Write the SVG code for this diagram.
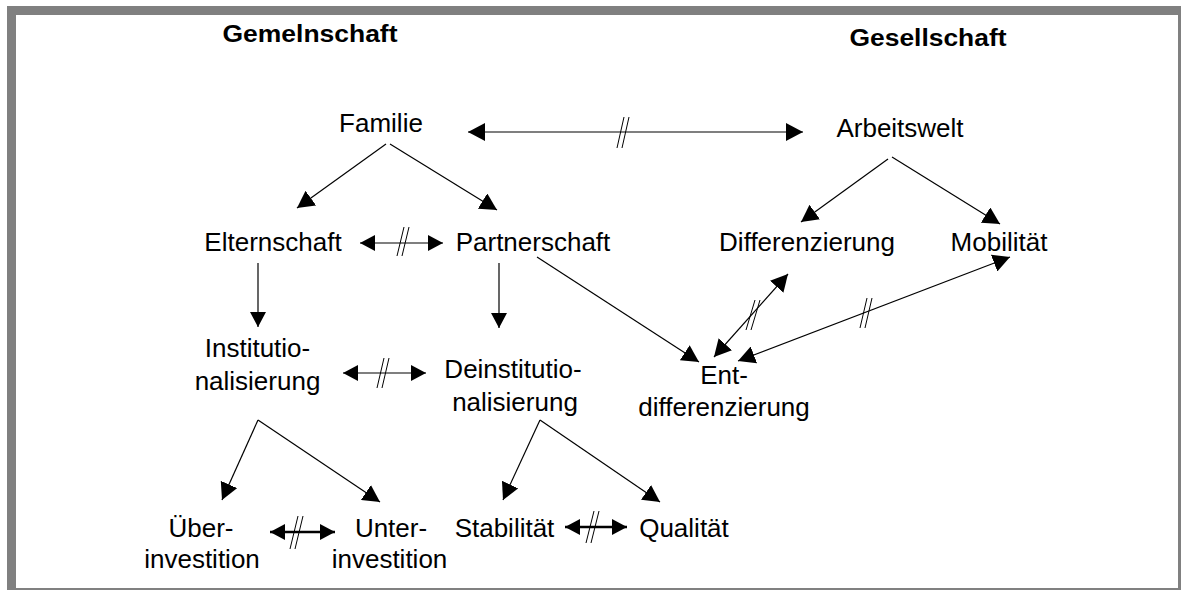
<svg xmlns="http://www.w3.org/2000/svg" width="1181" height="590" viewBox="0 0 1181 590">
<style>
text{font-family:"Liberation Sans",Arial,sans-serif;font-size:26px;fill:#000;text-anchor:middle}
.h{font-weight:bold;font-size:23.5px}
.c{stroke:#000;stroke-width:1.2;fill:none}
.t{stroke:#000;stroke-width:2.5;fill:none}
.s{stroke:#000;stroke-width:1;fill:none}
</style>
<defs>
<marker id="a" markerUnits="userSpaceOnUse" markerWidth="17" markerHeight="18" refX="17" refY="9" orient="auto-start-reverse"><path d="M0,0 L17,9 L0,18 z" fill="#000"/></marker>
<marker id="m" markerUnits="userSpaceOnUse" markerWidth="15" markerHeight="16" refX="15" refY="8" orient="auto-start-reverse"><path d="M0,0 L15,8 L0,16 z" fill="#000"/></marker>
</defs>
<rect x="7" y="6" width="1174" height="584" fill="#808080"/>
<rect x="16" y="15" width="1162" height="573" fill="#fff"/>

<g id="gemeinschaft"><text class="h" x="310" y="41.5" textLength="175" lengthAdjust="spacingAndGlyphs">Gemelnschaft</text></g>
<g id="gesellschaft"><text class="h" x="928" y="45.5" textLength="157" lengthAdjust="spacingAndGlyphs">Gesellschaft</text></g>
<g id="familie"><text x="381" y="132">Familie</text></g>
<g id="arbeitswelt"><text x="900" y="137">Arbeitswelt</text></g>
<g id="elternschaft"><text x="273" y="251">Elternschaft</text></g>
<g id="partnerschaft"><text x="533" y="251">Partnerschaft</text></g>
<g id="differenzierung"><text x="807" y="251">Differenzierung</text></g>
<g id="mobilitaet"><text x="999" y="251">Mobilität</text></g>
<g id="institutionalisierung"><text x="257.5" y="357">Institutio-</text><text x="257.5" y="390">nalisierung</text></g>
<g id="deinstitutionalisierung"><text x="513" y="377.5">Deinstitutio-</text><text x="515" y="411">nalisierung</text></g>
<g id="entdifferenzierung"><text x="724" y="384">Ent-</text><text x="724" y="416">differenzierung</text></g>
<g id="ueberinvestition"><text x="201" y="537">Über-</text><text x="202" y="568">investition</text></g>
<g id="unterinvestition"><text x="391" y="537">Unter-</text><text x="389.5" y="568">investition</text></g>
<g id="stabilitaet"><text x="504.5" y="537">Stabilität</text></g>
<g id="qualitaet"><text x="684" y="537">Qualität</text></g>

<g id="connectors">
<line class="c" x1="468" y1="132" x2="803" y2="132" marker-start="url(#a)" marker-end="url(#a)"/>
<path class="s" d="M617,148 L624,117 M622,148 L629,117"/>
<line class="c" x1="386" y1="144" x2="297" y2="208" marker-end="url(#a)"/>
<line class="c" x1="390" y1="144" x2="497" y2="210" marker-end="url(#a)"/>
<line class="c" x1="360" y1="243" x2="443" y2="243" marker-start="url(#m)" marker-end="url(#m)"/>
<path class="s" d="M397,256 L404,227 M402,256 L409,227"/>
<line class="c" x1="258" y1="263" x2="258" y2="327" marker-end="url(#m)"/>
<line class="c" x1="499" y1="263" x2="499" y2="328" marker-end="url(#m)"/>
<line class="c" x1="537" y1="257" x2="699" y2="362" marker-end="url(#a)"/>
<line class="c" x1="888" y1="159" x2="801" y2="222" marker-end="url(#a)"/>
<line class="c" x1="892" y1="157" x2="1000" y2="224" marker-end="url(#a)"/>
<line class="c" x1="714" y1="357" x2="788" y2="274" marker-start="url(#a)" marker-end="url(#a)"/>
<path class="s" d="M746,330 L755,300 M751,330 L760,300"/>
<line class="c" x1="738" y1="361" x2="1010" y2="257" marker-start="url(#a)" marker-end="url(#a)"/>
<path class="s" d="M860,328 L867,298 M865,328 L872,298"/>
<line class="c" x1="343" y1="373" x2="426" y2="373" marker-start="url(#m)" marker-end="url(#m)"/>
<path class="s" d="M377,388 L384,358 M382,388 L389,358"/>
<line class="c" x1="258" y1="420" x2="222" y2="500" marker-end="url(#a)"/>
<line class="c" x1="258" y1="420" x2="380" y2="502" marker-end="url(#a)"/>
<line class="c" x1="540" y1="420" x2="503" y2="500" marker-end="url(#a)"/>
<line class="c" x1="540" y1="420" x2="660" y2="502" marker-end="url(#a)"/>
<line class="t" x1="270" y1="532" x2="335" y2="532" marker-start="url(#m)" marker-end="url(#m)"/>
<path class="s" d="M290,549 L298,516 M295,549 L303,516"/>
<line class="t" x1="565" y1="527" x2="627" y2="527" marker-start="url(#m)" marker-end="url(#m)"/>
<path class="s" d="M586,543 L594,511 M591,543 L599,511"/>
</g>
</svg>
